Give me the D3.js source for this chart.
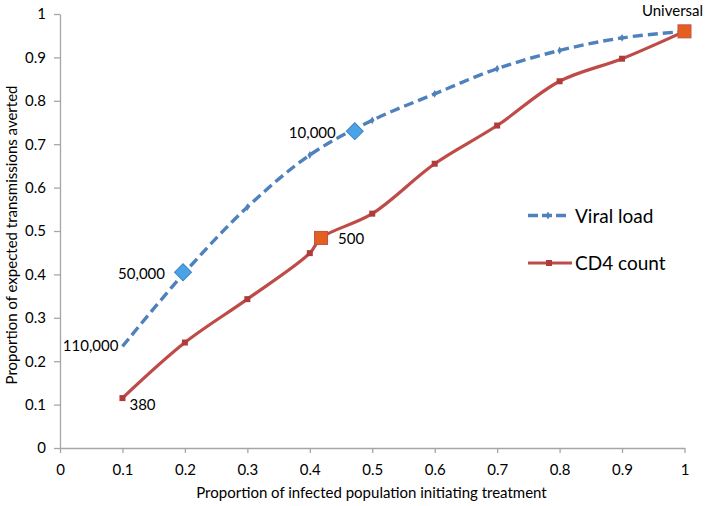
<!DOCTYPE html>
<html>
<head>
<meta charset="utf-8">
<script src="https://cdn.jsdelivr.net/npm/d3@7"></script>
<style>
  html, body { margin: 0; padding: 0; background: #fff; }
  svg text { font-family: Lato, "Liberation Sans", Arial, sans-serif; fill: #000; }
</style>
</head>
<body>
<svg id="chart" width="706" height="506"></svg>
<script>
// ---- data ----
const xTicks = [0, 0.1, 0.2, 0.3, 0.4, 0.5, 0.6, 0.7, 0.8, 0.9, 1];
const yTicks = [0, 0.1, 0.2, 0.3, 0.4, 0.5, 0.6, 0.7, 0.8, 0.9, 1];

const viralX = [0.1, 0.2, 0.3, 0.4, 0.5, 0.6, 0.7, 0.8, 0.9, 1.0];
const viralY = [0.234, 0.405, 0.555, 0.675, 0.755, 0.816, 0.874, 0.916, 0.945, 0.96];

const cd4X = [0.1, 0.2, 0.3, 0.4, 0.418, 0.5, 0.6, 0.7, 0.8, 0.9, 1.0];
const cd4Y = [0.115, 0.243, 0.343, 0.449, 0.484, 0.54, 0.655, 0.743, 0.845, 0.897, 0.96];

// highlighted thresholds
const viralMarkX = [0.197, 0.472];
const viralMarkY = [0.405, 0.73];
const cd4MarkX = [0.418, 1.0];
const cd4MarkY = [0.484, 0.96];

// data labels
const labelText = ["110,000", "50,000", "10,000", "500", "380", "Universal"];
const labelX    = [0.1, 0.197, 0.472, 0.418, 0.1, 1.0];
const labelY    = [0.234, 0.405, 0.73, 0.484, 0.115, 0.96];

const seriesNames = ["Viral load", "CD4 count"];
const xTitle = "Proportion of infected population initiating treatment";
const yTitle = "Proportion of expected transmissions averted";

// ---- styles ----
const blue = "#4F81BD", red = "#BE4B48";
const diamondFill = "#4AA3E6", diamondStroke = "#3C84C8";
const squareFill = "#E5601E", squareStroke = "#C0504D";
const axisColor = "#A6A6A6";
const FONT = 'Lato, "Liberation Sans", Arial, sans-serif';

const svg = d3.select("#chart");
const x = d3.scaleLinear().domain([0, 1]).range([60, 684.5]);
const y = d3.scaleLinear().domain([0, 1]).range([448, 14]);

// axes
const xAxis = svg.append("g").attr("transform", `translate(0,${y(0)})`)
  .call(d3.axisBottom(x).tickValues(xTicks).tickFormat(d3.format("")).tickSize(5).tickPadding(11).tickSizeOuter(0));
const yAxis = svg.append("g").attr("transform", `translate(${x(0)},0)`)
  .call(d3.axisLeft(y).tickValues(yTicks).tickFormat(d3.format("")).tickSize(6).tickPadding(8).tickSizeOuter(0));
[xAxis, yAxis].forEach(g => {
  g.select(".domain").attr("stroke", axisColor).attr("stroke-width", 1.3);
  g.selectAll(".tick line").attr("stroke", axisColor).attr("stroke-width", 1.3);
  g.selectAll(".tick text").attr("font-size", 15).attr("fill", "#000")
    .style("font-family", FONT);
});

// titles
svg.append("text").attr("x", 371.5).attr("y", 498).attr("text-anchor", "middle")
  .attr("font-size", 15).text(xTitle);
svg.append("text").attr("transform", "translate(17,235) rotate(-90)")
  .attr("text-anchor", "middle").attr("font-size", 15).text(yTitle);

const line = d3.line().x(d => x(d[0])).y(d => y(d[1])).curve(d3.curveCatmullRom.alpha(0.5));
const viral = viralX.map((v, i) => [v, viralY[i]]);
const cd4 = cd4X.map((v, i) => [v, cd4Y[i]]);

// CD4 line
svg.append("path").datum(cd4).attr("d", line).attr("fill", "none")
  .attr("stroke", red).attr("stroke-width", 3.2).attr("stroke-linejoin", "round");
svg.selectAll(".cd4pt").data(cd4.filter((d, i) => cd4X[i] !== 0.418 && cd4X[i] !== 1.0)).enter()
  .append("rect").attr("x", d => x(d[0]) - 3).attr("y", d => y(d[1]) - 3)
  .attr("width", 6).attr("height", 6).attr("fill", "#B03C3A");

// Viral load line (dashed)
svg.append("path").datum(viral).attr("d", line).attr("fill", "none")
  .attr("stroke", blue).attr("stroke-width", 3.4).attr("stroke-dasharray", "10,5");
const smallDiamond = d3.symbol().type(d3.symbolDiamond).size(18);
svg.selectAll(".vlpt").data(viral.slice(1, -1)).enter().append("path")
  .attr("d", smallDiamond).attr("transform", d => `translate(${x(d[0])},${y(d[1])})`)
  .attr("fill", blue);

// highlighted markers
viralMarkX.forEach((v, i) => {
  svg.append("rect").attr("x", -6).attr("y", -6).attr("width", 12).attr("height", 12)
    .attr("transform", `translate(${x(v)},${y(viralMarkY[i])}) rotate(45)`)
    .attr("fill", diamondFill).attr("stroke", diamondStroke).attr("stroke-width", 1);
});
cd4MarkX.forEach((v, i) => {
  svg.append("rect").attr("x", x(v) - 6.5).attr("y", y(cd4MarkY[i]) - 6.5)
    .attr("width", 13).attr("height", 13)
    .attr("fill", squareFill).attr("stroke", squareStroke).attr("stroke-width", 1);
});

// data labels (offsets in px)
const off = [[-4, 5, "end"], [-18, 6.5, "end"], [-19, 6.5, "end"], [17, 6.5, "start"], [7, 11.5, "start"], [-12, -15, "middle"]];
labelText.forEach((t, i) => {
  svg.append("text").attr("x", x(labelX[i]) + off[i][0]).attr("y", y(labelY[i]) + off[i][1])
    .attr("text-anchor", off[i][2]).attr("font-size", 15).text(t);
});

// legend
const lg = svg.append("g");
lg.append("line").attr("x1", 528).attr("x2", 568).attr("y1", 215.5).attr("y2", 215.5)
  .attr("stroke", blue).attr("stroke-width", 3.4).attr("stroke-dasharray", "10,4");
lg.append("path").attr("d", smallDiamond).attr("transform", "translate(548,215.5)").attr("fill", blue);
lg.append("text").attr("x", 575).attr("y", 222.5).attr("font-size", 19).text(seriesNames[0]);
lg.append("line").attr("x1", 528).attr("x2", 572).attr("y1", 263).attr("y2", 263)
  .attr("stroke", red).attr("stroke-width", 3.2);
lg.append("rect").attr("x", 546).attr("y", 260).attr("width", 6).attr("height", 6).attr("fill", "#B03C3A");
lg.append("text").attr("x", 575).attr("y", 270).attr("font-size", 19).text(seriesNames[1]);
</script>
</body>
</html>
